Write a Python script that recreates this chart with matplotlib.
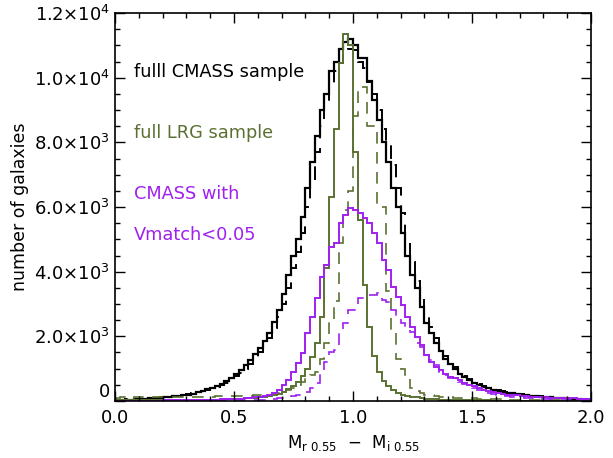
import numpy as np
import matplotlib
matplotlib.use("Agg")
import matplotlib.pyplot as plt
from matplotlib.ticker import MultipleLocator

# histogram bins: 0.02 wide from 0 to 2
bin_edges = np.linspace(0.0, 2.0, 101)

# full CMASS sample (solid / dashed)
cmass_solid = [30, 35, 40, 45, 50, 60, 70, 80, 90, 100,
               110, 125, 140, 160, 180, 200, 230, 270, 310, 360,
               410, 470, 540, 620, 720, 830, 950, 1100, 1270, 1450,
               1650, 1850, 2100, 2450, 2800, 3300, 3900, 4500, 5000, 5700,
               6600, 7400, 8200, 9000, 9500, 10200, 10500, 10900, 11100, 11200,
               11000, 10600, 10600, 9900, 9300, 8700, 8000, 7400, 6600, 6000,
               5200, 4500, 3900, 3500, 2900, 2400, 2100, 1800, 1550, 1300,
               1150, 1000, 850, 740, 640, 560, 480, 430, 390, 350,
               320, 290, 260, 240, 220, 200, 180, 165, 150, 135,
               120, 110, 100, 90, 80, 70, 60, 50, 45, 40]
cmass_dashed = [40, 45, 50, 55, 60, 65, 75, 85, 95, 110,
                120, 130, 150, 170, 190, 210, 240, 270, 300, 340,
                390, 440, 500, 570, 650, 760, 870, 1000, 1150, 1300,
                1500, 1700, 1950, 2250, 2600, 3000, 3500, 4100, 4600, 5200,
                6000, 6800, 7700, 8500, 9200, 9700, 10200, 10450, 10800, 10900,
                10850, 10500, 10300, 9870, 9500, 9000, 8400, 7980, 7300, 6600,
                5800, 5000, 4300, 3700, 3200, 2700, 2300, 1950, 1650, 1400,
                1200, 1050, 900, 780, 680, 590, 510, 450, 400, 360,
                330, 300, 270, 245, 225, 205, 185, 170, 155, 140,
                125, 115, 105, 95, 85, 75, 65, 55, 50, 45]

# full LRG sample
lrg_solid = [15, 15, 15, 15, 15, 15, 15, 15, 15, 15,
             15, 15, 20, 20, 20, 25, 25, 30, 30, 35,
             35, 40, 45, 50, 55, 60, 70, 80, 90, 100,
             115, 130, 150, 180, 220, 280, 360, 460, 600, 780,
             1000, 1350, 1800, 2600, 4100, 6300, 8400, 10450, 11350, 11000,
             7700, 5600, 3600, 2300, 1400, 900, 620, 450, 330, 250,
             200, 160, 130, 110, 90, 75, 60, 50, 45, 40,
             35, 30, 28, 25, 22, 20, 18, 16, 15, 14,
             12, 12, 11, 10, 10, 10, 9, 9, 8, 8,
             8, 7, 7, 7, 6, 6, 6, 5, 5, 5]
lrg_dashed = [100, 110, 110, 105, 110, 115, 110, 115, 120, 115,
              120, 120, 125, 120, 125, 130, 125, 130, 135, 130,
              135, 140, 140, 145, 150, 150, 155, 160, 165, 170,
              180, 190, 200, 220, 250, 280, 330, 400, 500, 600,
              700, 800, 900, 1300, 1800, 2500, 3100, 4900, 5900, 6500,
              8800, 9700, 9700, 8500, 8500, 6000, 6000, 3400, 2200, 1300,
              1000, 800, 400, 300, 250, 200, 170, 150, 130, 120,
              110, 100, 95, 90, 85, 80, 75, 70, 65, 60,
              55, 50, 45, 40, 38, 35, 32, 30, 28, 25,
              22, 20, 18, 16, 15, 14, 12, 10, 10, 10]

# CMASS with Vmatch<0.05
vmatch_solid = [10, 10, 10, 10, 10, 10, 12, 12, 12, 14,
                15, 16, 18, 20, 22, 24, 26, 28, 32, 36,
                40, 45, 50, 55, 60, 65, 75, 85, 95, 110,
                130, 160, 200, 250, 340, 500, 650, 900, 1180, 1480,
                2100, 2600, 3200, 3830, 4200, 4760, 4900, 5500, 5750, 5970,
                5900, 5800, 5660, 5500, 5200, 4900, 4360, 4050, 3530, 3220,
                2970, 2600, 2290, 1980, 1730, 1420, 1200, 1050, 960, 850,
                740, 700, 650, 560, 500, 450, 400, 350, 310, 280,
                250, 220, 200, 190, 170, 150, 140, 130, 120, 115,
                110, 105, 100, 95, 90, 85, 80, 70, 65, 60]
vmatch_dashed = [5, 5, 5, 5, 5, 5, 5, 5, 5, 5,
                 6, 6, 6, 7, 7, 8, 8, 9, 10, 10,
                 11, 12, 13, 14, 15, 16, 18, 20, 22, 25,
                 30, 40, 50, 60, 80, 100, 130, 160, 190, 230,
                 280, 400, 560, 870, 1200, 1520, 1580, 2100, 2400, 2810,
                 2810, 3180, 3200, 3280, 3280, 3340, 3120, 3060, 2800, 2600,
                 2400, 2300, 2130, 1800, 1670, 1420, 1270, 1110, 900, 800,
                 710, 650, 590, 520, 430, 400, 340, 300, 250, 220,
                 190, 170, 150, 130, 120, 110, 100, 90, 80, 75,
                 70, 65, 60, 55, 50, 45, 40, 35, 30, 25]

xtick_vals = [0, 0.5, 1.0, 1.5, 2.0]
xtick_labels = ['0.0', '0.5', '1.0', '1.5', '2.0']
ytick_vals = [0, 2000, 4000, 6000, 8000, 10000, 12000]
ytick_labels = ['0', r'$2.0{\times}10^3$', r'$4.0{\times}10^3$', r'$6.0{\times}10^3$',
                r'$8.0{\times}10^3$', r'$1.0{\times}10^4$', r'$1.2{\times}10^4$']

green = '#5b7132'
purple = '#a020f0'

fig = plt.figure(figsize=(6.13, 4.58), dpi=100)
ax = fig.add_axes([0.1876, 0.1245, 0.7765, 0.847])

dash = (0, (7, 5))
ax.stairs(cmass_solid, bin_edges, baseline=None, color='black', lw=1.6)
ax.stairs(cmass_dashed, bin_edges, baseline=None, color='black', lw=1.4, linestyle=dash)
ax.stairs(lrg_solid, bin_edges, baseline=None, color=green, lw=1.4)
ax.stairs(lrg_dashed, bin_edges, baseline=None, color=green, lw=1.2, linestyle=dash)
ax.stairs(vmatch_solid, bin_edges, baseline=None, color=purple, lw=1.4)
ax.stairs(vmatch_dashed, bin_edges, baseline=None, color=purple, lw=1.2, linestyle=dash)

ax.set_xlim(0, 2)
ax.set_ylim(0, 12000)
ax.set_xticks(xtick_vals)
ax.set_xticklabels(xtick_labels)
ax.xaxis.set_minor_locator(MultipleLocator(0.1))
ax.set_yticks(ytick_vals)
ax.set_yticklabels(ytick_labels)
ax.get_yticklabels()[0].set_verticalalignment('bottom')
ax.yaxis.set_minor_locator(MultipleLocator(500))
ax.tick_params(which='both', direction='in', top=True, right=True, labelsize=13)
ax.tick_params(axis='x', pad=6)
ax.tick_params(which='major', length=7, width=1)
ax.tick_params(which='minor', length=3.5, width=1)
for s in ax.spines.values():
    s.set_linewidth(1.2)

ax.set_xlabel(r'M$_{\mathregular{r\ 0.55}}$  $-$  M$_{\mathregular{i\ 0.55}}$', fontsize=12)
ax.set_ylabel('number of galaxies', fontsize=12.5)

ax.text(0.04, 0.835, 'fulll CMASS sample', transform=ax.transAxes, fontsize=12.8, color='black')
ax.text(0.04, 0.677, 'full LRG sample', transform=ax.transAxes, fontsize=12.8, color=green)
ax.text(0.04, 0.52, 'CMASS with', transform=ax.transAxes, fontsize=12.8, color=purple)
ax.text(0.04, 0.414, 'Vmatch<0.05', transform=ax.transAxes, fontsize=12.8, color=purple)

fig.savefig('out.png', dpi=100)
